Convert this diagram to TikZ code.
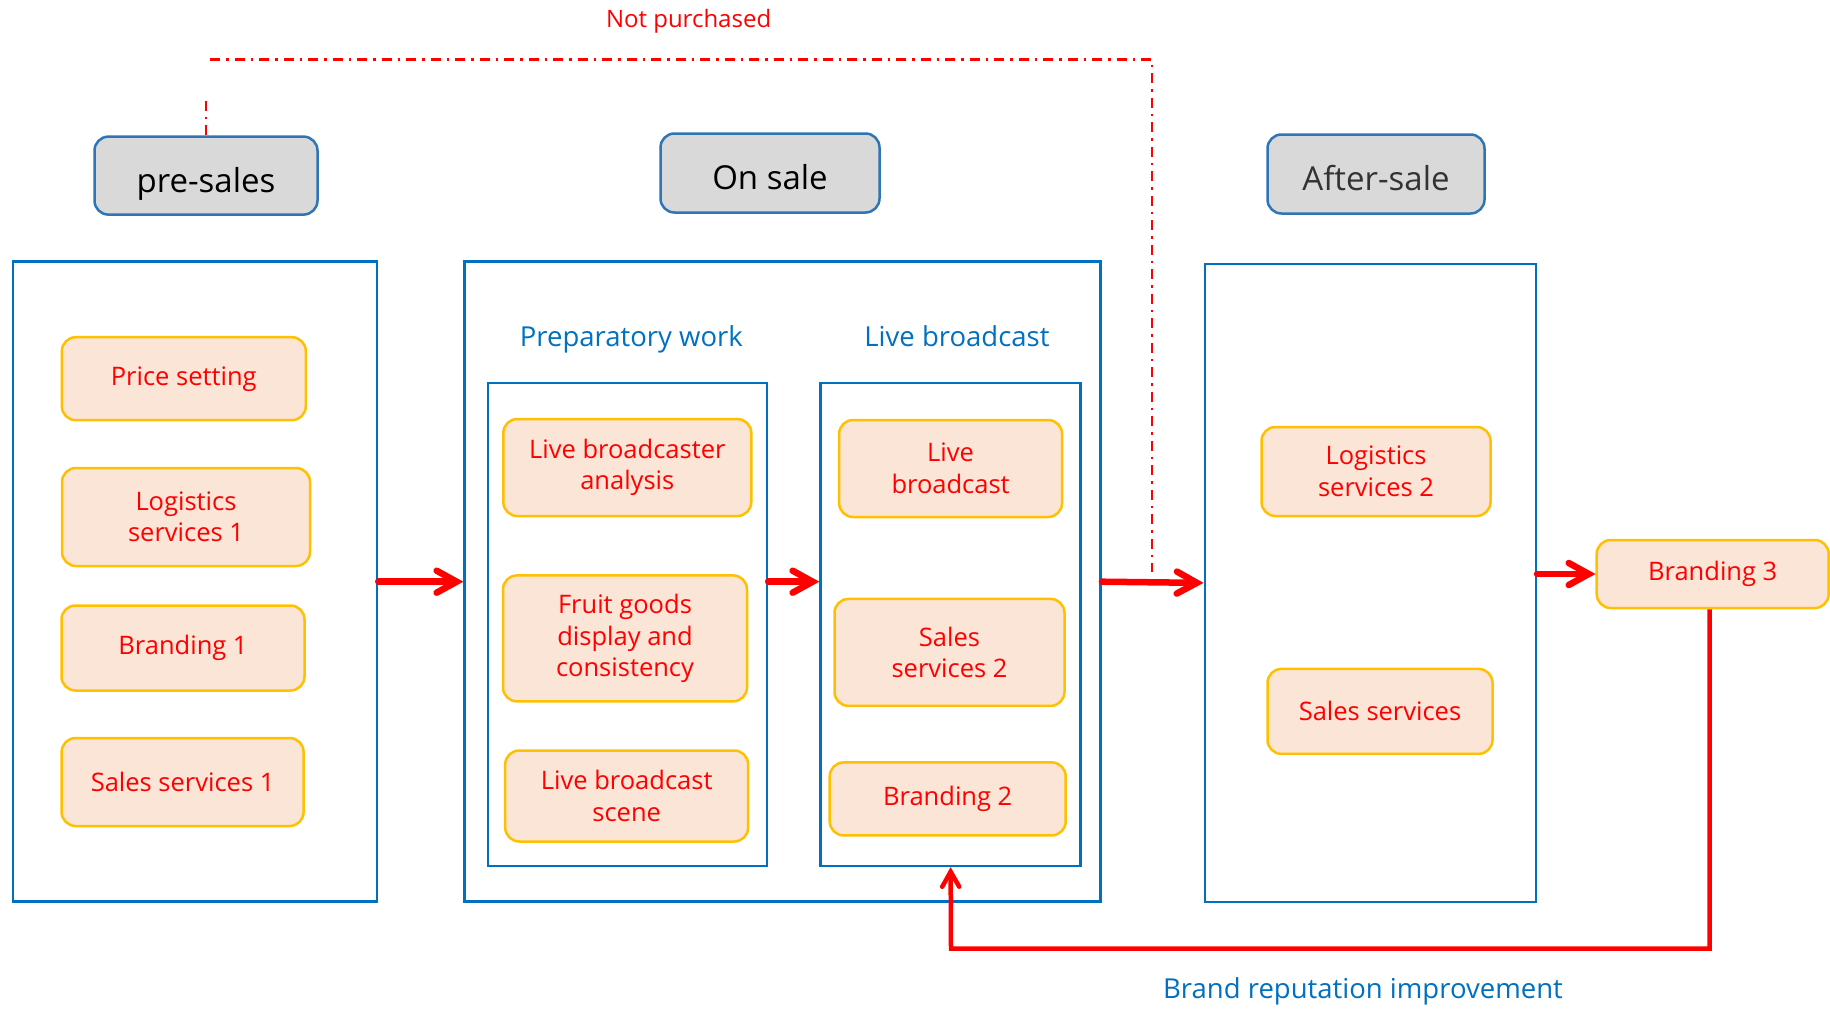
\documentclass[tikz,border=0pt]{standalone}
\usepackage{fontspec}
\setmainfont{Open Sans}
\usetikzlibrary{arrows.meta}

\definecolor{hdrfill}{HTML}{D9D9D9}
\definecolor{hdrline}{HTML}{2E75B6}
\definecolor{frameblue}{HTML}{0070C0}
\definecolor{itemfill}{HTML}{FBE5D6}
\definecolor{itemline}{HTML}{FFC000}
\definecolor{red0}{HTML}{FF0000}

\tikzset{
  phase/.style={draw=hdrline, fill=hdrfill, line width=2.5pt, rounded corners=14pt, text=black, font=\fontsize{33}{38}\selectfont, text height=41pt, text depth=8pt},
  frame/.style={draw=frameblue, line width=2.5pt},
  item/.style={draw=itemline, fill=itemfill, line width=2.5pt, rounded corners=14pt, inner sep=0pt, align=center, text=red0, font=\fontsize{25.5}{31.5}\selectfont},
  caption/.style={text=frameblue, font=\fontsize{27.5}{32}\selectfont, text height=21pt, text depth=6pt},
  flow/.style={draw=red0, line width=6.5pt, line cap=round, -{Straight Barb[length=20pt, width=22pt, line cap=round]}},
  back/.style={draw=red0, line width=4.5pt, -{Straight Barb[length=15pt, width=17pt, line cap=round]}},
  nobuy/.style={draw=red0, line width=2.5pt, dash pattern=on 10pt off 6pt on 2.5pt off 6pt},
}

\begin{document}
\begin{tikzpicture}[x=1pt, y=-1pt]
\useasboundingbox (0,0) rectangle (1830,1017);

% phase headers
\node[phase, minimum width=223pt, minimum height=78pt] (pre) at (206,175.6) {pre-sales};
\node[phase, minimum width=219pt, minimum height=79pt] (on) at (770,173) {On sale};
\node[phase, minimum width=217pt, minimum height=79pt, text=black!80] (after) at (1376,174) {After-sale};

% frames
\node[frame, minimum width=364pt, minimum height=640pt] (f1) at (195,581.7) {};
\node[frame, minimum width=636pt, minimum height=640pt] (f2) at (782.6,581.7) {};
\node[frame, minimum width=331pt, minimum height=638pt] (f3) at (1370.3,582.9) {};
\node[frame, minimum width=279pt, minimum height=483pt] (prep) at (627.4,624.4) {};
\node[frame, minimum width=260pt, minimum height=483pt] (live) at (950.6,624.4) {};

\node[caption] (cprep) at (631.4,338.5) {Preparatory work};
\node[caption] (clive) at (957,338.5) {Live broadcast};
\node[caption] (cbrand) at (1363,991) {Brand reputation improvement};
\node[caption, text=red0, font=\fontsize{24}{28}\selectfont] (cnot) at (688.6,19.8) {Not purchased};

% pre-sales items
\node[item, minimum width=244pt, minimum height=83pt] (price) at (183.8,378.7) {Price setting};
\node[item, minimum width=248pt, minimum height=98pt] (log1) at (186,517) {Logistics\\services 1};
\node[item, minimum width=243pt, minimum height=85pt] (brand1) at (183,648) {Branding 1};
\node[item, minimum width=242pt, minimum height=88pt] (sales1) at (182.6,782) {Sales services 1};

% on sale items
\node[item, minimum width=248pt, minimum height=97pt] (anal) at (627.3,467.5) {Live broadcaster\\analysis};
\node[item, minimum width=244pt, minimum height=126pt] (fruit) at (625,638.4) {Fruit goods\\display and\\consistency};
\node[item, minimum width=243pt, minimum height=91pt] (scene) at (626.7,796) {Live broadcast\\scene};
\node[item, minimum width=223pt, minimum height=97pt] (lb) at (950.6,468.5) {Live\\broadcast};
\node[item, minimum width=230pt, minimum height=107pt] (sales2) at (949.5,652.4) {Sales\\services 2};
\node[item, minimum width=236pt, minimum height=73pt] (brand2) at (947.7,798.9) {Branding 2};

% after-sale items
\node[item, minimum width=229pt, minimum height=89pt] (log2) at (1376,471.5) {Logistics\\services 2};
\node[item, minimum width=225pt, minimum height=85pt] (sales3) at (1380,711.4) {Sales services};
\node[item, minimum width=232pt, minimum height=68pt] (brand3) at (1712.7,574) {Branding 3};

% connectors
\draw[flow] (f1.east) -- (f2.west);
\draw[flow] (prep.east |- f1.east) -- (live.west |- f1.east);
\draw[flow] (f2.east) -- (f3.west);
\draw[flow] (f3.east |- brand3.west) -- (brand3.west);

\coordinate (turn) at (951,948.5);
\draw[back] ([xshift=-3pt]brand3.south) |- (turn) -- (live.south);

\coordinate (nbl) at (210,59.5);
\coordinate (nbr) at (1152,572);
\draw[nobuy] (pre.north) -- ++(0,-38) (nbl) -| (nbr);
\end{tikzpicture}
\end{document}
